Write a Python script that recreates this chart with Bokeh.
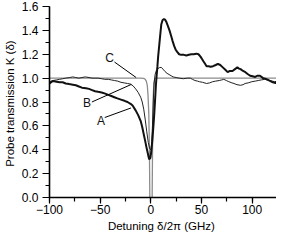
from bokeh.plotting import figure
from bokeh.models import Range1d, SingleIntervalTicker, Label, ColumnDataSource, PrintfTickFormatter
from bokeh.embed import file_html
from bokeh.resources import INLINE

# ---- data ----
a_x = [-100, -97, -93, -90, -87, -84, -80.6, -77, -74, -71, -68, -64, -61, -58, -55, -52,
       -48.6, -45, -42, -39, -36, -33, -29.5, -26, -23, -20, -18, -15, -12.5, -10, -8.5, -7,
       -5.5, -4.3, -3, -1.7, -0.5, 0.2, 1.4, 2.3, 3.3, 4.2, 5, 5.8, 6.5, 7.2, 8.8, 10.3, 11.5,
       12.9, 14, 15.1, 16.7, 18.4, 20, 21.5, 23, 24.4, 26, 27.9, 30, 32.7, 35, 37.5, 40, 42.3,
       45, 47, 49, 50.5, 52, 53.5, 55, 57, 59, 61.4, 64, 66.2, 68.5, 71, 73.5, 75.8, 78, 80.6,
       83, 85.4, 87, 88.5, 91, 93.3, 95.5, 98, 100.5, 103, 105, 107.7, 110.8, 113, 115.6, 118,
       120.4, 123, 125.2]
a_y = [0.955, 0.975, 0.97, 0.965, 0.965, 0.955, 0.95, 0.945, 0.94, 0.93, 0.92, 0.915, 0.91,
       0.90, 0.89, 0.885, 0.88, 0.87, 0.86, 0.85, 0.84, 0.83, 0.82, 0.81, 0.80, 0.785, 0.77,
       0.73, 0.69, 0.64, 0.59, 0.53, 0.47, 0.42, 0.37, 0.32, 0.33, 0.37, 0.47, 0.57, 0.69, 0.82,
       0.94, 1.03, 1.10, 1.18, 1.32, 1.45, 1.485, 1.495, 1.49, 1.475, 1.44, 1.40, 1.355, 1.31,
       1.27, 1.24, 1.22, 1.20, 1.195, 1.195, 1.19, 1.195, 1.20, 1.20, 1.205, 1.20, 1.18, 1.16,
       1.14, 1.12, 1.10, 1.10, 1.095, 1.10, 1.11, 1.12, 1.11, 1.09, 1.07, 1.05, 1.06, 1.06,
       1.075, 1.09, 1.08, 1.075, 1.06, 1.05, 1.035, 1.02, 1.015, 1.01, 1.02, 1.02, 1.00, 0.995,
       0.985, 0.975, 0.965, 0.96, 0.955]

b_x = [-100, -98, -96.5, -93, -90, -87, -84, -80, -77, -74, -71, -68, -64.6, -61, -58, -55,
       -52, -48.5, -45.5, -42, -39, -36, -32.7, -29.5, -26.3, -23, -20, -17.5, -15, -12.5, -10,
       -8.5, -7, -5.5, -4, -2.5, -1.2, 0, 0.8, 1.6, 2.4, 3.2, 4.2, 5.5, 7, 8.5, 10.4, 12, 14,
       16, 18, 20, 22, 25, 28, 32, 36, 39, 41, 43.5, 46, 48, 51, 55, 58, 61, 64, 67.5, 70, 72,
       74.5, 77, 80, 82, 85, 88.5, 91, 93, 96, 99.7, 103, 106, 109, 112.4, 115, 117, 120, 122,
       125]
b_y = [0.965, 0.975, 0.98, 0.985, 0.99, 0.995, 1.0, 1.005, 1.01, 1.005, 1.0, 1.005, 1.01,
       1.005, 1.0, 1.0, 1.0, 0.995, 0.99, 0.99, 0.985, 0.98, 0.975, 0.965, 0.96, 0.955, 0.95,
       0.935, 0.91, 0.88, 0.84, 0.80, 0.74, 0.65, 0.55, 0.46, 0.41, 0.40, 0.45, 0.60, 0.80,
       0.95, 1.03, 1.065, 1.08, 1.088, 1.09, 1.075, 1.055, 1.04, 1.03, 1.02, 1.01, 1.005, 1.0,
       0.995, 1.0, 1.0, 0.99, 0.98, 0.975, 0.97, 0.965, 0.955, 0.96, 0.97, 0.975, 0.98, 0.985,
       0.99, 0.98, 0.97, 0.96, 0.955, 0.945, 0.94, 0.945, 0.955, 0.96, 0.97, 0.975, 0.98,
       0.985, 0.99, 0.985, 0.98, 0.975, 0.97, 0.975]

c_x = [-100, -10, -7, -5.5, -4.5, -3.5, -2.8, -2.0, -1.4, -1.0, 0.1, 1.3, 1.8, 2.4, 3.0, 4.0, 126]
c_y = [1.0, 1.0, 0.998, 0.99, 0.975, 0.94, 0.86, 0.70, 0.40, 0.0, -0.15, 0.0, 0.55, 0.85, 0.96, 1.0, 1.0]

# curve labels and their leader lines
curve_names = ["A", "B", "C"]
name_x = [-49.3, -63.0, -40.7]
name_y = [0.645, 0.79, 1.167]
lead_x0 = [-45.5, -58.2, -35.9]
lead_y0 = [0.67, 0.80, 1.135]
lead_x1 = [-19.6, -19.3, -14.5]
lead_y1 = [0.75, 0.947, 1.005]

x_title = "Detuning  \u03b4/2\u03c0 (GHz)"
y_title = "Probe transmission  K (\u03b4)"

FONT = "Liberation Sans"

p = figure(width=276, height=234, output_backend="svg", toolbar_location=None,
           x_range=Range1d(-100, 124), y_range=Range1d(0, 1.6),
           min_border_left=47, min_border_right=0, min_border_top=6, min_border_bottom=30)
p.outline_line_color = None
p.xgrid.grid_line_color = None
p.ygrid.grid_line_color = None
p.background_fill_color = "white"
p.border_fill_color = "white"

p.xaxis.ticker = SingleIntervalTicker(interval=50, num_minor_ticks=2)
p.yaxis.ticker = SingleIntervalTicker(interval=0.2, num_minor_ticks=2)
p.yaxis.formatter = PrintfTickFormatter(format="%.1f")

for ax in (p.xaxis, p.yaxis):
    ax.axis_line_width = 1.6
    ax.axis_line_color = "black"
    ax.major_tick_line_color = "black"
    ax.minor_tick_line_color = "black"
    ax.major_tick_line_width = 1.2
    ax.minor_tick_line_width = 1.2
    ax.major_tick_in = 0
    ax.minor_tick_in = 0
    ax.major_label_text_font = FONT
    ax.major_label_text_font_size = "12px"
    ax.major_label_text_color = "black"
    ax.axis_label_text_font = FONT
    ax.axis_label_text_font_size = "11.5px"
    ax.axis_label_text_font_style = "normal"
    ax.axis_label_text_color = "black"
p.xaxis.axis_label = x_title
p.yaxis.axis_label = y_title
p.xaxis.major_tick_out = 6
p.xaxis.minor_tick_out = 4
p.yaxis.major_tick_out = 7
p.yaxis.minor_tick_out = 4
p.xaxis.major_label_standoff = 1
p.yaxis.major_label_standoff = 4
p.xaxis.axis_label_standoff = 3
p.yaxis.axis_label_standoff = 3

p.line(c_x, c_y, line_color="#8c8c8c", line_width=1.3)
p.line(b_x, b_y, line_color="#222222", line_width=1.0)
p.line(a_x, a_y, line_color="#111111", line_width=2.0)

src = ColumnDataSource(dict(x0=lead_x0, y0=lead_y0, x1=lead_x1, y1=lead_y1))
p.segment(x0="x0", y0="y0", x1="x1", y1="y1", source=src, line_color="black", line_width=1)

for n, xx, yy in zip(curve_names, name_x, name_y):
    p.add_layout(Label(x=xx, y=yy, text=n, text_font=FONT, text_font_size="12px",
                       text_align="center", text_baseline="middle", text_color="#111111"))

open("out.html", "w").write(file_html(p, INLINE))
